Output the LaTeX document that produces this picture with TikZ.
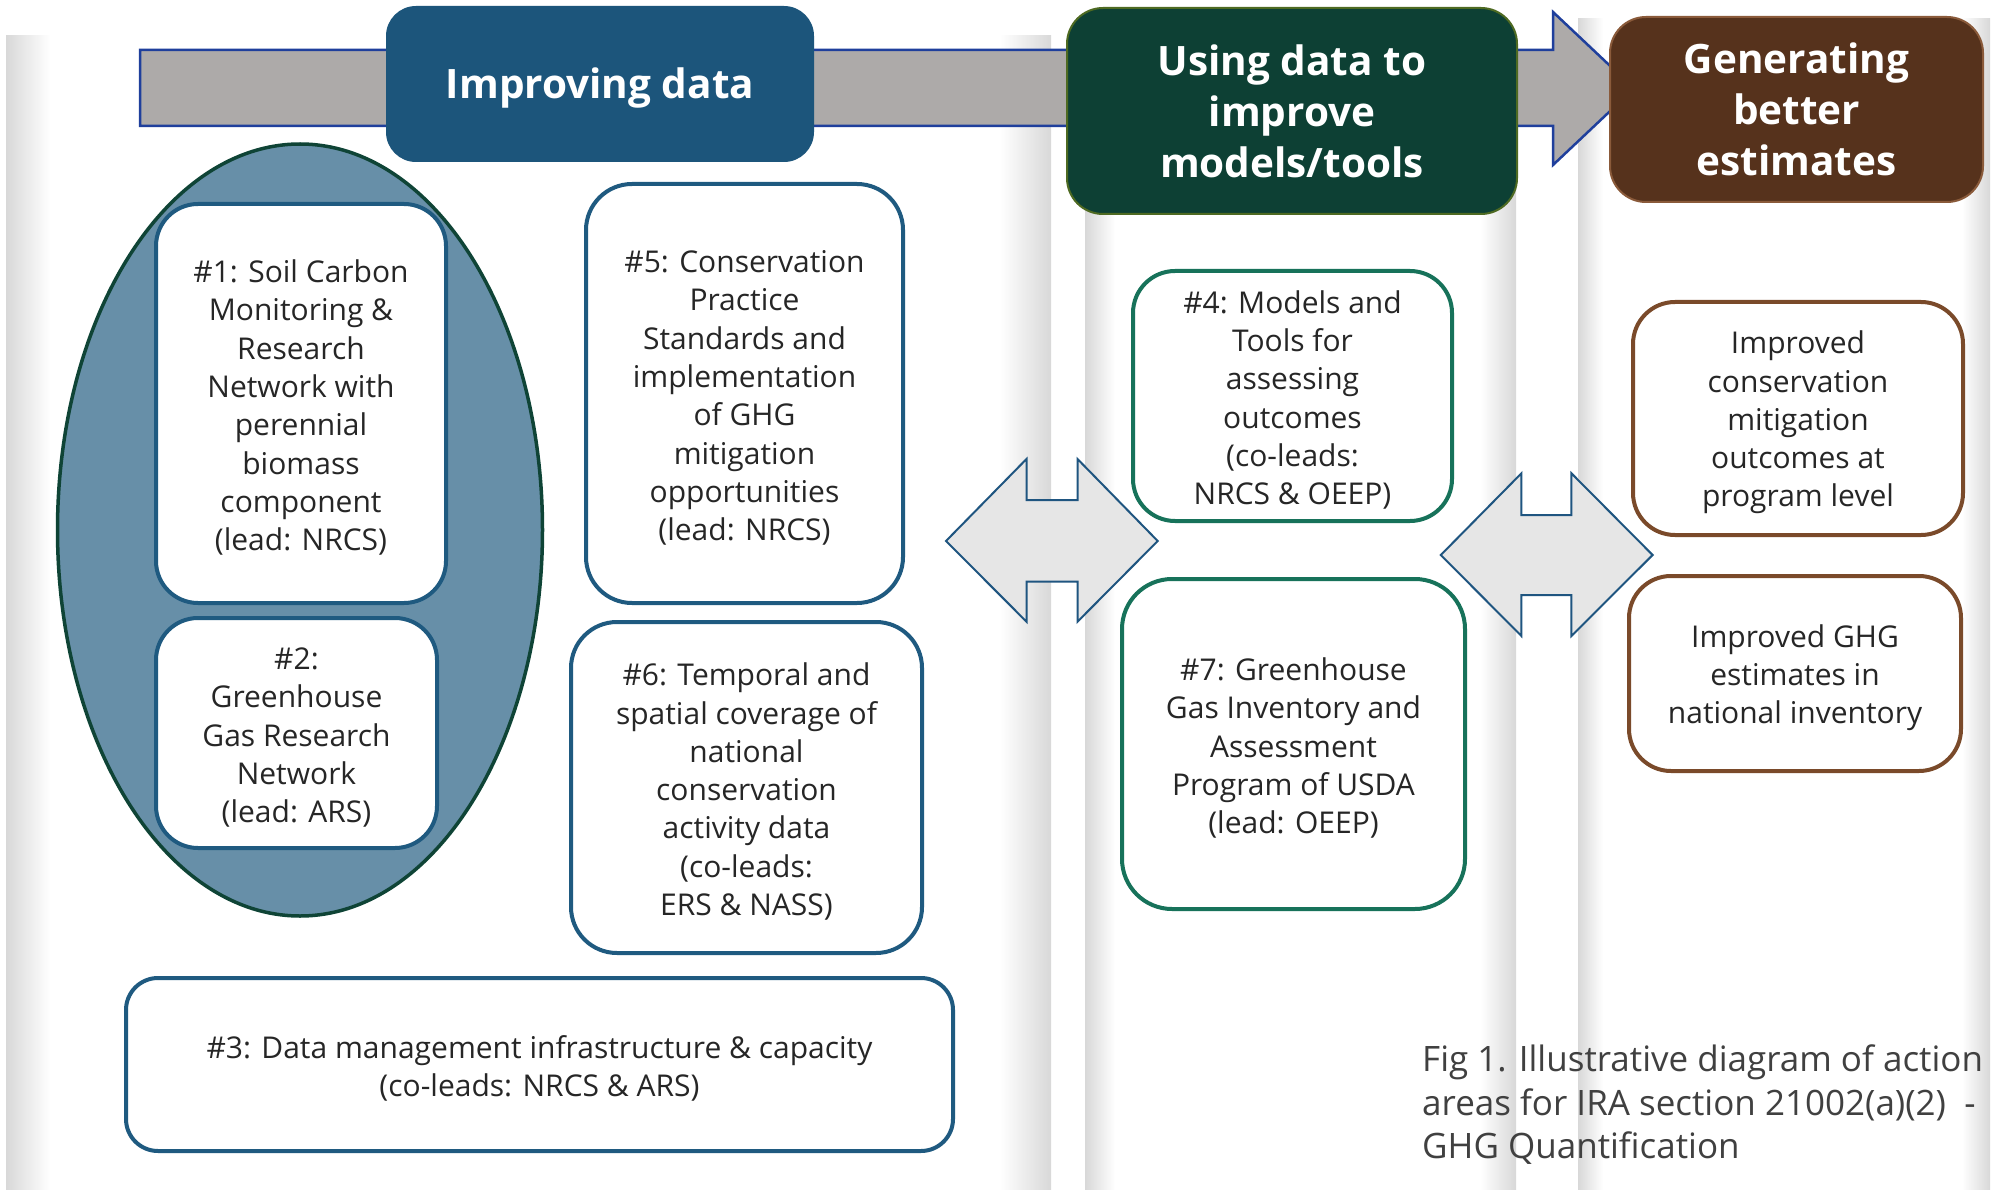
\documentclass[tikz,border=0pt]{standalone}
\usepackage{fontspec}
\setmainfont{Open Sans}
\usetikzlibrary{shapes.geometric}
\definecolor{hblue}{HTML}{1C557B}
\definecolor{hgreen}{HTML}{0D4034}
\definecolor{hgreenline}{HTML}{4E6A22}
\definecolor{hbrown}{HTML}{56321C}
\definecolor{hbrownline}{HTML}{8A5A3A}
\definecolor{boxblue}{HTML}{1F5A80}
\definecolor{boxgreen}{HTML}{17725A}
\definecolor{boxbrown}{HTML}{7A4A2A}
\definecolor{ellfill}{HTML}{678FA8}
\definecolor{ellline}{HTML}{0F4436}
\definecolor{arrgray}{HTML}{ADAAA9}
\definecolor{arrline}{HTML}{1F3F9C}
\definecolor{dblfill}{HTML}{E6E6E6}
\definecolor{dblline}{HTML}{1F5580}
\definecolor{txt}{HTML}{262626}
\definecolor{captxt}{HTML}{404040}
\definecolor{shadow}{HTML}{D8D8D8}
\newcommand\myBody{\fontsize{30}{38.3}\selectfont}
\newcommand\myHead{\fontsize{40.5}{51}\selectfont\bfseries}
\newcommand\myCap{\fontsize{35}{43.4}\selectfont}
\newcommand\topgap{\rule{0pt}{31pt}}
\begin{document}
\begin{tikzpicture}[x=1pt,y=-1pt,
  header/.style={inner sep=0pt, align=center, text=white, font=\myHead, line width=2pt},
  itembox/.style={fill=white, line width=4pt, inner sep=0pt, align=center, text=txt, font=\myBody, rounded corners=42pt},
  bluebox/.style={itembox, draw=boxblue},
  greenbox/.style={itembox, draw=boxgreen},
  brownbox/.style={itembox, draw=boxbrown},
  dblarrow/.style={fill=dblfill, draw=dblline, line width=2pt, line join=miter}
]
\useasboundingbox (0,0) rectangle (2003,1190);
\fill[white] (0,0) rectangle (2003,1190);

% column shadows
\shade[left color=shadow, right color=white] (6,36) rectangle (50,1190);
\shade[left color=white, right color=shadow] (1000,36) rectangle (1051,1190);
\shade[left color=shadow, right color=white] (1085,36) rectangle (1115,1190);
\shade[left color=white, right color=shadow] (1480,36) rectangle (1516,1190);
\shade[left color=shadow, right color=white] (1578,19) rectangle (1603,1190);
\shade[left color=white, right color=shadow] (1962,19) rectangle (1990,1190);

% big process arrow
\draw[fill=arrgray, draw=arrline, line width=2.5pt, line join=miter]
  (140,50) -- (1553,50) -- (1553,12) -- (1634,88.5) -- (1553,165) -- (1553,126) -- (140,126) -- cycle;

% headers
\node[header, fill=hblue, rounded corners=30pt, minimum width=428pt, minimum height=156pt,
  execute at begin node={\rule{0pt}{39pt}}] (h1) at (600,84) {Improving data};
\node[header, fill=hgreen, draw=hgreenline, rounded corners=36pt, minimum width=450pt, minimum height=206pt] (h2) at (1292,111) {Using data to\\improve\\models/tools};
\node[header, fill=hbrown, draw=hbrownline, rounded corners=36pt, minimum width=373pt, minimum height=185pt] (h3) at (1796.5,109.5) {Generating\\better\\estimates};

% ellipse group
\node[ellipse, fill=ellfill, draw=ellline, line width=3.5pt, inner sep=0pt, minimum width=485pt, minimum height=772pt] (grp) at (300,530) {};

% blue boxes
\node[bluebox, minimum width=290pt, minimum height=399pt] (b1) at (301,403.5) {\topgap\#1: Soil Carbon\\Monitoring \&\\Research\\Network with\\perennial\\biomass\\component\\(lead: NRCS)};
\node[bluebox, minimum width=281pt, minimum height=230pt] (b2) at (296.5,733) {\topgap\#2:\\Greenhouse\\Gas Research\\Network\\(lead: ARS)};
\node[bluebox, minimum width=317pt, minimum height=419pt, rounded corners=46pt] (b5) at (744.5,393.5) {\topgap\#5: Conservation\\Practice\\Standards and\\implementation\\of GHG\\mitigation\\opportunities\\(lead: NRCS)};
\node[bluebox, minimum width=351pt, minimum height=331pt, rounded corners=46pt] (b6) at (746.5,787.5) {\topgap\#6: Temporal and\\spatial coverage of\\national\\conservation\\activity data\\(co-leads:\\ERS \& NASS)};
\node[bluebox, minimum width=827pt, minimum height=173pt, rounded corners=32pt] (b3) at (539.5,1064.5) {\topgap\#3: Data management infrastructure \& capacity\\(co-leads: NRCS \& ARS)};

% green boxes
\node[greenbox, minimum width=319pt, minimum height=250pt] (b4) at (1292.5,396) {\topgap\#4: Models and\\Tools for\\assessing\\outcomes\\(co-leads:\\NRCS \& OEEP)};
\node[greenbox, minimum width=343pt, minimum height=330pt, rounded corners=50pt] (b7) at (1293.5,744) {\topgap\#7: Greenhouse\\Gas Inventory and\\Assessment\\Program of USDA\\(lead: OEEP)};

% brown boxes
\node[brownbox, minimum width=330pt, minimum height=233pt] (e1) at (1798,418.5) {\topgap Improved\\conservation\\mitigation\\outcomes at\\program level};
\node[brownbox, minimum width=332pt, minimum height=195pt] (e2) at (1795,673.5) {\topgap Improved GHG\\estimates in\\national inventory};

% double arrows
\draw[dblarrow] (946,541) -- (1026.5,459) -- (1026.5,500) -- (1077.5,500) -- (1077.5,459) -- (1157.7,541)
  -- (1077.5,621.7) -- (1077.5,581.7) -- (1026.5,581.7) -- (1026.5,621.7) -- cycle;
\draw[dblarrow] (1440.8,555) -- (1521.4,473.3) -- (1521.4,515) -- (1571.4,515) -- (1571.4,473.3) -- (1652.6,555)
  -- (1571.4,636) -- (1571.4,595) -- (1521.4,595) -- (1521.4,636) -- cycle;

% caption
\node[anchor=north west, align=left, inner sep=0pt, text=captxt, font=\myCap] (cap) at (1422,1045)
  {Fig 1. Illustrative diagram of action\\areas for IRA section 21002(a)(2)~~-\\GHG Quantification};
\end{tikzpicture}
\end{document}
